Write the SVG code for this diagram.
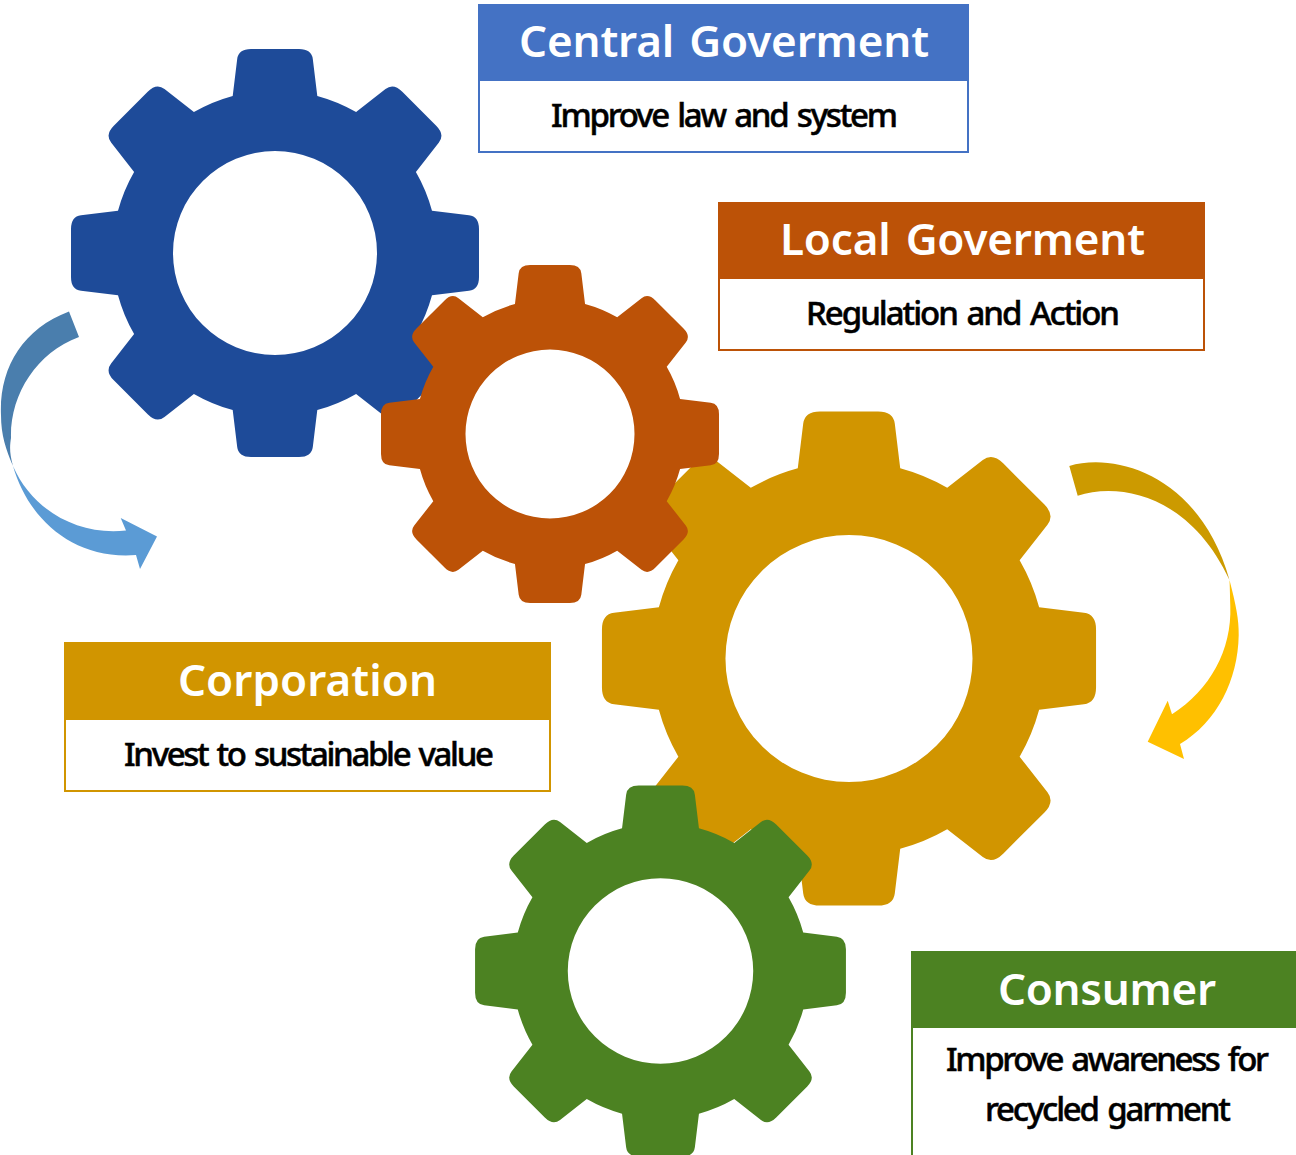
<svg xmlns="http://www.w3.org/2000/svg" width="1296" height="1155" viewBox="0 0 1296 1155">
<style>
.title{font-family:"Noto Sans","Open Sans","Liberation Sans",sans-serif;font-size:44px;font-weight:600;fill:#fff;word-spacing:4px}
.body{font-family:"Noto Sans","Open Sans","Liberation Sans",sans-serif;font-size:33px;font-weight:500;fill:#000;stroke:#000;stroke-width:.5px;word-spacing:3px}
.box{fill:#fff;stroke-width:2}
</style>
<defs>
<path id="gear" fill-rule="evenodd" d="M-42.3,-157L-37.8,-194Q-36.6,-204 -24,-204L24,-204Q36.6,-204 37.8,-194L42.3,-157A163,163 0 0 1 81.1,-140.9L110.5,-163.9Q118.4,-170.1 127.3,-161.2L161.2,-127.3Q170.1,-118.4 163.9,-110.5L140.9,-81.1A163,163 0 0 1 157,-42.3L194,-37.8Q204,-36.6 204,-24L204,24Q204,36.6 194,37.8L157,42.3A163,163 0 0 1 140.9,81.1L163.9,110.5Q170.1,118.4 161.2,127.3L127.3,161.2Q118.4,170.1 110.5,163.9L81.1,140.9A163,163 0 0 1 42.3,157L37.8,194Q36.6,204 24,204L-24,204Q-36.6,204 -37.8,194L-42.3,157A163,163 0 0 1 -81.1,140.9L-110.5,163.9Q-118.4,170.1 -127.3,161.2L-161.2,127.3Q-170.1,118.4 -163.9,110.5L-140.9,81.1A163,163 0 0 1 -157,42.3L-194,37.8Q-204,36.6 -204,24L-204,-24Q-204,-36.6 -194,-37.8L-157,-42.3A163,163 0 0 1 -140.9,-81.1L-163.9,-110.5Q-170.1,-118.4 -161.2,-127.3L-127.3,-161.2Q-118.4,-170.1 -110.5,-163.9L-81.1,-140.9A163,163 0 0 1 -42.3,-157ZM102,0A102,102 0 1 0 -102,0A102,102 0 1 0 102,0Z"/>
</defs>
<rect width="1296" height="1155" fill="#fff"/>
<g id="gear-blue"><use href="#gear" transform="translate(275,253)" fill="#1E4B99"/></g>
<g id="gear-gold"><use href="#gear" transform="translate(849,658.5) scale(1.211)" fill="#D19500"/></g>
<g id="gear-orange"><use href="#gear" transform="translate(550,434) scale(.8284)" fill="#BC5207"/></g>
<g id="gear-green"><use href="#gear" transform="translate(660.5,971) scale(.909)" fill="#4C8222"/></g>
<g id="connectors">
<path fill="#4A7EAD" d="M69,311.5C22,329 -1,369 1,415C1,435 6,450 13,466C9,452 10,445 11,438C10,395 36,353 79,337Z"/>
<path fill="#5B9BD5" d="M13,466C28,518 72,560 136,555L140,569L157,536.5L120.7,518L126,530.5C78,536 32,510 13,466Z"/>
<path fill="#CC9A00" d="M1069.3,466C1115,452 1200,475 1229.5,580C1190,495 1120,482 1077.7,495.7Z"/>
<path fill="#FFC000" d="M1229.5,580C1236,605 1239,620 1238.7,635C1238,680 1217,722 1180,744L1184,759L1147.7,741.7L1167.7,700.7L1172,714.3C1210,690 1232,650 1230.3,606C1230,598 1230,590 1229.5,580Z"/>
</g>
<g id="central">
<rect class="box" x="479" y="5" width="489" height="147" stroke="#4472C4"/>
<rect x="478" y="4" width="491" height="77" fill="#4472C4"/>
<text class="title" x="519" y="57" textLength="410" lengthAdjust="spacing">Central Goverment</text>
<text class="body" x="551" y="127" textLength="347" lengthAdjust="spacing">Improve law and system</text>
</g>
<g id="local">
<rect class="box" x="719" y="203" width="485" height="147" stroke="#BC5207"/>
<rect x="718" y="202" width="487" height="77" fill="#BC5207"/>
<text class="title" x="780" y="255" textLength="365" lengthAdjust="spacing">Local Goverment</text>
<text class="body" x="806" y="325" textLength="314" lengthAdjust="spacing">Regulation and Action</text>
</g>
<g id="corporation">
<rect class="box" x="65" y="643" width="485" height="148" stroke="#D19500"/>
<rect x="64" y="642" width="487" height="78" fill="#D19500"/>
<text class="title" x="178" y="696" textLength="259" lengthAdjust="spacing">Corporation</text>
<text class="body" x="124" y="766" textLength="370" lengthAdjust="spacing">Invest to sustainable value</text>
</g>
<g id="consumer">
<rect class="box" x="912" y="952" width="400" height="220" stroke="#4C8222"/>
<rect x="911" y="951" width="385" height="77" fill="#4C8222"/>
<text class="title" x="998" y="1005" textLength="218" lengthAdjust="spacing">Consumer</text>
<text class="body" x="946" y="1071" textLength="323" lengthAdjust="spacing">Improve awareness for</text>
<text class="body" x="985" y="1121" textLength="246" lengthAdjust="spacing">recycled garment</text>
</g>
</svg>
